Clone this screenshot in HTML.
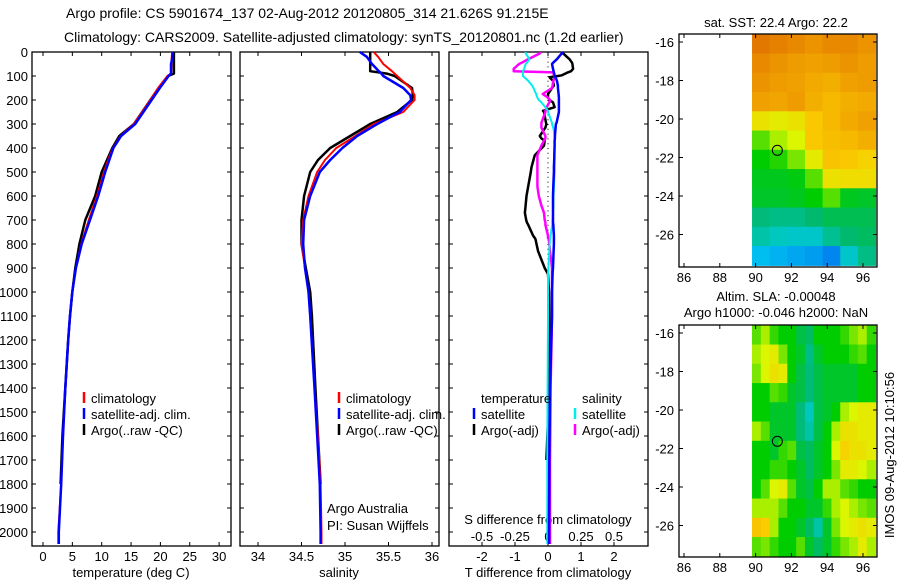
<!DOCTYPE html>
<html><head><meta charset="utf-8"><style>
body{margin:0;background:#fff;}
svg{display:block;font-family:"Liberation Sans",sans-serif;}
text{font-size:13px;fill:#000;}
</style></head><body>
<svg id="fig" width="900" height="580" viewBox="0 0 900 580">
<text x="66" y="18" style="font-size:14px">Argo profile: CS 5901674_137 02-Aug-2012 20120805_314 21.626S 91.215E</text>
<text x="64" y="42" style="font-size:14px">Climatology: CARS2009. Satellite-adjusted climatology: synTS_20120801.nc (1.2d earlier)</text>
<g id="g1"></g>
<g id="g2"></g>
<g id="g3"></g>
<g id="g4"></g>
<g id="g5"></g>
<text transform="translate(894,455) rotate(-90)" text-anchor="middle">IMOS 09-Aug-2012 10:10:56</text>
</svg>
<script>
// ---- data ----
const tDepth=[0,30,50,90,100,150,200,250,300,350,400,450,500,600,700,800,900,1000,1100,1200,1400,1600,1800,2000,2050];
const tClim=[22.0,21.9,21.9,21.8,21.2,19.6,18.3,16.9,15.5,13.2,11.9,11.1,10.4,9.2,7.8,6.5,5.6,5.0,4.6,4.3,3.8,3.4,3.1,2.6,2.6];
const tSat=[22.1,22.0,21.8,21.8,21.4,19.9,18.5,17.1,15.7,13.3,12.0,11.3,10.6,9.4,8.0,6.6,5.6,5.0,4.6,4.3,3.8,3.4,3.1,2.7,2.7];
const tArgo=[22.3,22.3,22.3,22.3,21.3,19.7,18.3,16.9,15.5,13.0,11.8,10.9,10.0,8.9,7.2,6.2,5.5,5.0,4.6,4.3,3.8,3.3,3.0,null,null];
const sDepth=[0,20,50,80,90,100,150,180,200,250,300,350,400,450,500,600,700,800,900,1000,1100,1400,1600,1800,2000,2050];
const sClim=[35.33,35.38,35.44,35.54,35.57,35.6,35.75,35.8,35.8,35.67,35.33,35.12,34.9,34.77,34.68,34.58,34.52,34.5,34.54,34.58,34.6,34.65,34.69,34.72,34.73,34.73];
const sSat=[35.17,35.25,35.31,35.39,35.42,35.44,35.67,35.75,35.76,35.63,35.37,35.14,34.97,34.83,34.71,34.6,34.53,34.52,34.54,34.58,34.6,34.65,34.68,34.71,34.72,34.72];
const sArgo=[35.29,35.29,35.29,35.29,35.48,35.57,35.77,35.78,35.77,35.6,35.29,35.06,34.83,34.69,34.6,34.53,34.5,34.5,34.55,34.6,34.62,34.66,34.69,34.72,null,null];
const dDepth=[0,5,30,45,50,70,80,85,97,100,105,110,120,140,150,175,190,200,210,230,245,250,295,300,315,350,360,370,390,430,440,480,500,560,600,640,670,700,710,720,765,775,780,800,830,900,920,925,1000,1100,1400,1700,2000,2050];
const dTSat=[0.45,0.42,0.27,0.15,0.12,0.15,0.17,0.18,0.2,0.2,0.22,0.24,0.27,0.3,0.3,0.32,0.33,0.33,0.33,0.33,0.33,0.33,0.26,0.24,0.23,0.21,0.21,0.2,0.2,0.19,0.19,0.18,0.18,0.16,0.15,0.15,0.15,0.15,0.15,0.16,0.18,0.18,0.18,0.18,0.17,0.15,0.14,0.14,0.12,0.12,0.06,0.04,0.03,0.03];
const dTArgo=[0.45,0.45,0.65,0.73,0.74,0.76,0.7,0.6,0.42,0.3,0.05,0.08,0.15,0.18,0.12,0.0,0.0,0.05,0.15,0.2,-0.15,-0.12,-0.06,-0.05,-0.08,-0.25,-0.2,-0.1,-0.12,-0.4,-0.42,-0.5,-0.52,-0.6,-0.65,-0.68,-0.7,-0.66,-0.64,-0.6,-0.45,-0.4,-0.38,-0.35,-0.3,-0.1,-0.02,0.0,0.03,0.04,0.04,-0.05,null,null];
const dSSat=[-0.17,-0.17,-0.14,-0.16,-0.17,-0.18,-0.19,-0.19,-0.19,-0.19,-0.18,-0.17,-0.15,-0.12,-0.11,-0.09,-0.08,-0.07,-0.05,-0.02,0.0,0.0,0.03,0.03,0.04,0.05,0.05,0.05,0.05,0.05,0.05,0.05,0.05,0.045,0.042,0.04,0.038,0.035,0.034,0.032,0.02,0.018,0.015,0.012,0.01,0.003,0.0,0.0,0.0,0.0,-0.003,-0.005,-0.005,-0.005];
const dSArgo=[-0.06,-0.06,-0.15,-0.2,-0.22,-0.26,-0.26,0.04,0.045,0.05,0.05,0.05,0.04,0.035,0.03,-0.04,0.0,0.015,0.01,-0.01,-0.02,-0.02,-0.05,-0.05,-0.05,-0.02,-0.02,-0.03,-0.05,-0.08,-0.08,-0.08,-0.08,-0.08,-0.07,-0.05,-0.03,-0.025,-0.02,-0.02,0.0,0.0,0.005,0.01,0.015,0.03,0.03,0.03,0.03,0.03,0.02,0.015,0.015,0.015];
const depthTicks=[0,100,200,300,400,500,600,700,800,900,1000,1100,1200,1300,1400,1500,1600,1700,1800,1900,2000];
const tTicks=[0,5,10,15,20,25,30];
const sTicks=[34,34.5,35,35.5,36];
const dTTicks=[-2,-1,0,1,2];
const dSTickLabels=["-0.5","-0.25","0","0.25","0.5"];
const lonTicks=[86,88,90,92,94,96];
const latTicks=[-16,-18,-20,-22,-24,-26];
const argoLon=91.215, argoLat=-21.626;
const sstGrid=[
[0.84,0.82,0.8,0.78,0.8,0.8,0.78],
[0.8,0.78,0.76,0.75,0.76,0.78,0.76],
[0.78,0.76,0.75,0.73,0.72,0.75,0.76],
[0.75,0.74,0.76,0.72,0.7,0.72,0.73],
[0.62,0.6,0.62,0.67,0.7,0.73,0.75],
[0.5,0.55,0.58,0.67,0.69,0.7,0.72],
[0.45,0.47,0.52,0.6,0.68,0.67,0.65],
[0.43,0.43,0.44,0.5,0.62,0.63,0.63],
[0.42,0.42,0.43,0.45,0.5,0.43,0.42],
[0.36,0.35,0.35,0.37,0.39,0.39,0.39],
[0.32,0.3,0.28,0.28,0.34,0.37,0.38],
[0.22,0.2,0.18,0.16,0.12,0.28,0.35]];
const slaGrid=[
[.5,.55,.48,.45,.45,.4,.38,.45,.45,.45,.48,.52,.55,.48],
[.55,.58,.6,.52,.45,.42,.35,.42,.45,.45,.45,.48,.5,.45],
[.52,.58,.62,.6,.45,.4,.36,.4,.42,.42,.42,.42,.45,.45],
[.45,.45,.5,.48,.42,.4,.36,.4,.42,.42,.42,.42,.45,.45],
[.45,.45,.42,.42,.42,.36,.3,.4,.42,.45,.55,.58,.6,.6],
[.55,.5,.42,.42,.42,.36,.32,.4,.45,.55,.62,.62,.6,.6],
[.45,.45,.42,.48,.5,.4,.38,.42,.45,.58,.65,.62,.62,.6],
[.45,.45,.48,.48,.45,.42,.38,.42,.45,.52,.6,.6,.58,.55],
[.45,.5,.58,.6,.5,.42,.4,.45,.55,.55,.5,.48,.45,.45],
[.55,.55,.55,.5,.45,.45,.42,.42,.48,.55,.58,.55,.52,.5],
[.68,.66,.55,.45,.45,.42,.38,.32,.42,.52,.58,.6,.62,.6],
[.5,.52,.48,.45,.45,.5,.42,.38,.42,.48,.52,.55,.6,.55]];

// ---- helpers ----
const NS="http://www.w3.org/2000/svg";
function mk(parent,tag,attrs){const e=document.createElementNS(NS,tag);for(const k in attrs)e.setAttribute(k,attrs[k]);parent.appendChild(e);return e;}
const TOP=52,BOT=546;
const yD=d=>TOP+d*0.24;
const xT=t=>43+t*5.87;
const xS=s=>258+(s-34)*87;
const xDT=v=>548+v*33;
const xDS=v=>548+v*132;

function frame(g,x0,x1,name){
  const r=mk(g,'rect',{x:x0,y:TOP,width:x1-x0,height:BOT-TOP,fill:'none',stroke:'#000','stroke-width':1.3});
  
  
  depthTicks.forEach(d=>{const y=yD(d);
    mk(g,'line',{x1:x0,x2:x0+4,y1:y,y2:y,stroke:'#000'});
    mk(g,'line',{x1:x1-4,x2:x1,y1:y,y2:y,stroke:'#000'});});
}
function xticks(g,vals,fx,labels,axisName){
  vals.forEach((v,i)=>{const x=fx(v);
    mk(g,'line',{x1:x,x2:x,y1:TOP,y2:TOP+4,stroke:'#000'});
    mk(g,'line',{x1:x,x2:x,y1:BOT-4,y2:BOT,stroke:'#000'});
    if(labels){const t=mk(g,'text',{x:x,y:561,'text-anchor':'middle'});t.textContent=labels[i];
      
      }
  });
}
function line(g,fx,xs,ds,color,w,name){
  let pts=[];
  xs.forEach((v,i)=>{if(v!==null)pts.push(fx(v).toFixed(1)+','+yD(ds[i]).toFixed(1));});
  const p=mk(g,'polyline',{points:pts.join(' '),fill:'none',stroke:color,'stroke-width':w,'stroke-linejoin':'round'});
  
  
}
function legend(g,x,y,color,label,name){
  mk(g,'line',{x1:x,x2:x,y1:y-11,y2:y,stroke:color,'stroke-width':2.5});
  const t=mk(g,'text',{x:x+7,y:y});t.textContent=label;
  
  
}
function txt(g,x,y,s,name,anchor){const t=mk(g,'text',{x:x,y:y,'text-anchor':anchor||'start'});t.textContent=s;
  
  return t;}

// ---- panel 1: temperature ----
const g1=document.getElementById('g1');
frame(g1,32,231,'temperature-axes');
depthTicks.forEach(d=>{txt(g1,28,yD(d)+5,String(d),'depth-tick-label','end');});
xticks(g1,tTicks,xT,tTicks.map(String),'temperature-axis');
txt(g1,131,577,'temperature (deg C)','temperature-axis-title','middle');
line(g1,xT,tArgo,tDepth,'#000',2.5,'temperature-argo-line');
line(g1,xT,tClim,tDepth,'#f00',2,'temperature-climatology-line');
line(g1,xT,tSat,tDepth,'#00f',2.5,'temperature-satellite-line');
legend(g1,84,403,'#f00','climatology','legend-climatology');
legend(g1,84,419,'#00f','satellite-adj. clim.','legend-satellite');
legend(g1,84,435,'#000','Argo(..raw -QC)','legend-argo');

// ---- panel 2: salinity ----
const g2=document.getElementById('g2');
frame(g2,240,439,'salinity-axes');
xticks(g2,sTicks,xS,sTicks.map(String),'salinity-axis');
txt(g2,339,577,'salinity','salinity-axis-title','middle');
line(g2,xS,sArgo,sDepth,'#000',2.5,'salinity-argo-line');
line(g2,xS,sClim,sDepth,'#f00',2,'salinity-climatology-line');
line(g2,xS,sSat,sDepth,'#00f',2.5,'salinity-satellite-line');
legend(g2,339,403,'#f00','climatology','legend-climatology');
legend(g2,339,419,'#00f','satellite-adj. clim.','legend-satellite');
legend(g2,339,435,'#000','Argo(..raw -QC)','legend-argo');
txt(g2,327,513,'Argo Australia','credit-argo-australia');
txt(g2,327,530,'PI: Susan Wijffels','credit-pi');

// ---- panel 3: differences ----
const g3=document.getElementById('g3');
frame(g3,449,648,'difference-axes');
xticks(g3,dTTicks,xDT,dTTicks.map(String),'t-difference-axis');
dSTickLabels.forEach((s,i)=>{txt(g3,xDT(dTTicks[i]),541,s,'s-difference-tick-label','middle');});
txt(g3,548,524,'S difference from climatology','s-difference-axis-title','middle');
txt(g3,548,577,'T difference from climatology','t-difference-axis-title','middle');
for(let d=0;d<=2000;d+=20){mk(g3,'line',{x1:548,x2:548,y1:yD(d),y2:yD(d)+1,stroke:'#000','stroke-width':1});}
line(g3,xDT,dTArgo,dDepth,'#000',2.5,'t-difference-argo-line');
line(g3,xDS,dSArgo,dDepth,'#f0f',2.5,'s-difference-argo-line');
line(g3,xDS,dSSat,dDepth,'#0ee',2,'s-difference-satellite-line');
line(g3,xDT,dTSat,dDepth,'#00f',2.5,'t-difference-satellite-line');
txt(g3,481,403,'temperature','legend-temperature-heading');
txt(g3,582,403,'salinity','legend-salinity-heading');
legend(g3,474,419,'#00f','satellite','legend-t-satellite');
legend(g3,474,435,'#000','Argo(-adj)','legend-t-argo');
legend(g3,575,419,'#0ee','satellite','legend-s-satellite');
legend(g3,575,435,'#f0f','Argo(-adj)','legend-s-argo');

// ---- maps ----
const cmapStops=[[0,[0,70,230]],[0.15,[0,150,240]],[0.22,[0,190,240]],[0.3,[0,200,190]],[0.37,[0,185,110]],[0.45,[0,205,0]],[0.52,[120,230,0]],[0.58,[220,245,0]],[0.66,[250,205,0]],[0.75,[240,160,0]],[0.85,[225,115,0]],[1,[180,0,0]]];
function cmap(v){for(let i=1;i<cmapStops.length;i++){if(v<=cmapStops[i][0]){const a=cmapStops[i-1],b=cmapStops[i],f=(v-a[0])/(b[0]-a[0]);
  const c=a[1].map((q,k)=>Math.round(q+(b[1][k]-q)*f));return 'rgb('+c.join(',')+')';}}return 'rgb(180,0,0)';}
function map(g,top,bot,grid,title,titleY,name){
  const x0=679,x1=877;
  const xL=lon=>684+(lon-86)*17.9;
  const yL=lat=>(top+8)+(-16-lat)*19.25;
  const lon0=89.8,lon1=96.7,lat0=-15.6,lat1=-27.6;
  const rows=grid.length,cols=grid[0].length;
  const cw=(xL(lon1)-xL(lon0))/cols,ch=(yL(lat1)-yL(lat0))/rows;
  grid.forEach((row,r)=>row.forEach((v,c)=>{
    const cell=mk(g,'rect',{x:xL(lon0)+c*cw,y:yL(lat0)+r*ch,width:cw+0.6,height:ch+0.6,fill:cmap(v)});
    
    
  }));
  mk(g,'rect',{x:x0,y:bot,width:x1-x0,height:10,fill:'#fff'});
  const fr=mk(g,'rect',{x:x0,y:top,width:x1-x0,height:bot-top,fill:'none',stroke:'#000','stroke-width':1.3});
  
  
  lonTicks.forEach(l=>{const x=xL(l);
    mk(g,'line',{x1:x,x2:x,y1:top,y2:top+4,stroke:'#000'});
    mk(g,'line',{x1:x,x2:x,y1:bot-4,y2:bot,stroke:'#000'});
    txt(g,x,bot+15,String(l),name+'-lon-tick-label','middle');});
  latTicks.forEach(l=>{const y=yL(l);
    mk(g,'line',{x1:x0,x2:x0+4,y1:y,y2:y,stroke:'#000'});
    mk(g,'line',{x1:x1-4,x2:x1,y1:y,y2:y,stroke:'#000'});
    txt(g,x0-5,y+5,String(l),name+'-lat-tick-label','end');});
  const c=mk(g,'circle',{cx:xL(argoLon),cy:yL(argoLat),r:5,fill:'none',stroke:'#000','stroke-width':1});
  
  
  title.forEach((t,i)=>txt(g,776,titleY+i*16,t,name+'-title','middle'));
}
map(document.getElementById('g4'),34,267,sstGrid,['sat. SST: 22.4 Argo: 22.2'],27,'sst-map');
map(document.getElementById('g5'),325,557,slaGrid,['Altim. SLA: -0.00048','Argo h1000: -0.046 h2000: NaN'],301,'sla-map');
</script>
</body></html>
